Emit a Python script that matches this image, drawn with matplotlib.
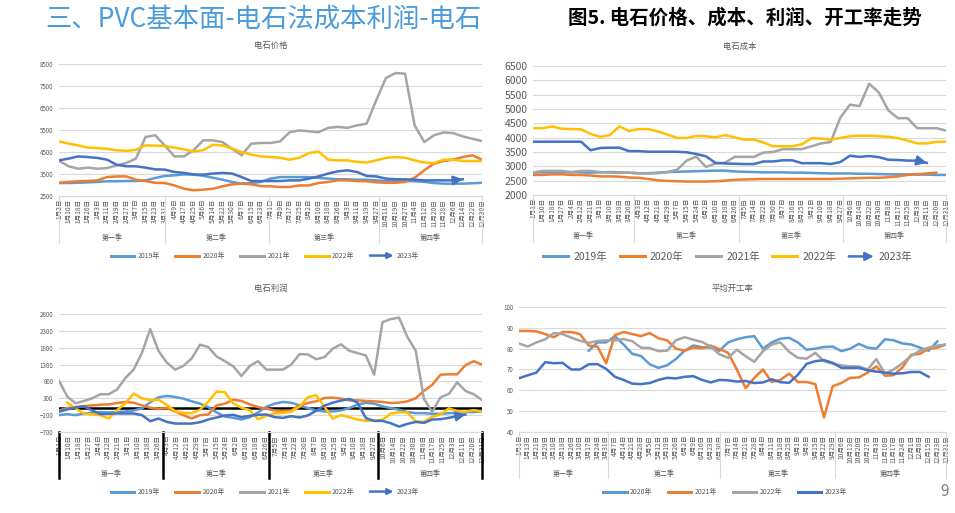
import numpy as np
import matplotlib.pyplot as plt
import matplotlib.transforms as mtransforms
from matplotlib.legend_handler import HandlerBase
from matplotlib.patches import FancyArrowPatch
from matplotlib.lines import Line2D

plt.rcParams['font.family'] = ['Noto Sans CJK SC', 'DejaVu Sans']

nan = np.nan

# ---------------- data ----------------
years = ['2019年', '2020年', '2021年', '2022年', '2023年']
quarters = ['第一季', '第二季', '第三季', '第四季']

# 电石价格 (daily price, sampled at the axis labels)
price_labels = ['1月2日', '1月10日', '1月18日', '1月26日', '2月3日', '2月11日', '2月19日', '2月27日',
                '3月7日', '3月15日', '3月23日', '3月31日', '4月9日', '4月17日', '4月25日', '5月6日',
                '5月14日', '5月22日', '5月30日', '6月7日', '6月15日', '6月23日', '7月1日', '7月9日',
                '7月17日', '7月25日', '8月2日', '8月10日', '8月18日', '8月26日', '9月3日', '9月11日',
                '9月19日', '9月27日', '10月11日', '10月19日', '10月27日', '11月4日', '11月12日',
                '11月20日', '11月28日', '12月6日', '12月14日', '12月22日', '12月30日']
price_2019 = [3090, 3090, 3100, 3120, 3140, 3170, 3170, 3180, 3180, 3210, 3320, 3410, 3440, 3480, 3470,
              3420, 3330, 3240, 3140, 3060, 3090, 3140, 3290, 3360, 3360, 3360, 3360, 3320, 3290, 3260,
              3260, 3240, 3240, 3210, 3180, 3180, 3180, 3170, 3140, 3090, 3060, 3060, 3060, 3080, 3100]
price_2020 = [3100, 3140, 3170, 3180, 3210, 3360, 3390, 3390, 3240, 3180, 3100, 3090, 2980, 2830, 2760,
              2790, 2830, 2940, 3030, 3060, 3030, 2950, 2940, 2910, 2910, 2980, 2980, 3090, 3140, 3210,
              3210, 3180, 3170, 3120, 3100, 3100, 3140, 3330, 3670, 3970, 4090, 4150, 4270, 4350, 4150]
price_2021 = [4100, 3850, 3740, 3790, 3740, 3770, 3890, 4000, 4200, 5180, 5260, 4800, 4300, 4300, 4580,
              5030, 5030, 4950, 4650, 4350, 4880, 4910, 4910, 4980, 5400, 5480, 5440, 5400, 5600, 5640,
              5600, 5710, 5790, 6850, 7860, 8090, 8060, 5700, 4950, 5260, 5390, 5360, 5210, 5100, 5000]
price_2022 = [4980, 4880, 4800, 4700, 4680, 4640, 4580, 4550, 4600, 4800, 4790, 4770, 4700, 4620, 4520,
              4580, 4830, 4800, 4650, 4500, 4380, 4300, 4270, 4240, 4150, 4240, 4450, 4520, 4150, 4120,
              4120, 4050, 4020, 4120, 4230, 4270, 4240, 4120, 4020, 4000, 4150, 4150, 4090, 4090, 4090]
price_2023 = [4120, 4200, 4300, 4270, 4230, 4150, 3920, 3850, 3850, 3790, 3710, 3700, 3590, 3550, 3480,
              3470, 3520, 3550, 3520, 3360, 3180, 3180, 3180, 3180, 3210, 3210, 3290, 3390, 3520, 3620,
              3670, 3590, 3410, 3390, 3290, 3260, 3260, 3240, 3210, 3210, 3210, 3210, 3260, nan, nan]

# 电石成本 / 电石利润 share the same label set
week_labels = ['1月1日', '1月10日', '1月18日', '1月27日', '2月4日', '2月12日', '2月21日', '3月1日',
               '3月10日', '3月18日', '3月26日', '4月3日', '4月12日', '4月21日', '4月29日', '5月7日',
               '5月15日', '5月24日', '6月2日', '6月10日', '6月18日', '6月26日', '7月5日', '7月14日',
               '7月22日', '7月30日', '8月7日', '8月16日', '8月25日', '9月2日', '9月10日', '9月18日',
               '9月27日', '10月6日', '10月14日', '10月22日', '10月30日', '11月8日', '11月17日',
               '11月25日', '12月3日', '12月11日', '12月20日', '12月31日']
cost_2019 = [2780, 2790, 2790, 2790, 2790, 2790, 2780, 2790, 2800, 2790, 2780, 2760, 2760, 2780, 2800,
             2810, 2820, 2830, 2840, 2850, 2850, 2820, 2810, 2800, 2790, 2790, 2790, 2780, 2780, 2770,
             2760, 2750, 2750, 2750, 2740, 2740, 2730, 2720, 2720, 2720, 2710, 2710, 2700, 2700]
cost_2020 = [2700, 2700, 2720, 2720, 2700, 2700, 2680, 2650, 2650, 2640, 2610, 2600, 2560, 2510, 2490,
             2480, 2470, 2470, 2470, 2480, 2500, 2530, 2540, 2550, 2560, 2560, 2560, 2560, 2560, 2560,
             2560, 2560, 2570, 2580, 2590, 2600, 2600, 2620, 2650, 2700, 2730, 2750, 2780, nan]
cost_2021 = [2780, 2840, 2840, 2840, 2800, 2840, 2840, 2800, 2780, 2780, 2780, 2750, 2750, 2760, 2800,
             2880, 3200, 3340, 2980, 3100, 3130, 3330, 3330, 3330, 3480, 3500, 3600, 3600, 3600, 3700,
             3800, 3850, 4700, 5150, 5100, 5880, 5580, 4950, 4680, 4680, 4330, 4330, 4330, 4250]
cost_2022 = [4330, 4330, 4390, 4310, 4300, 4290, 4130, 4030, 4090, 4390, 4230, 4300, 4300, 4220, 4110,
             3990, 3990, 4060, 4050, 4010, 4090, 4010, 3930, 3930, 3830, 3700, 3700, 3700, 3770, 3980,
             3970, 3930, 3990, 4050, 4070, 4070, 4050, 4030, 3980, 3900, 3800, 3800, 3855, 3860]
cost_2023 = [3860, 3860, 3860, 3860, 3860, 3860, 3560, 3640, 3650, 3650, 3530, 3530, 3510, 3510, 3510,
             3510, 3490, 3430, 3350, 3120, 3100, 3090, 3080, 3080, 3170, 3170, 3210, 3210, 3110, 3110,
             3110, 3080, 3150, 3370, 3330, 3360, 3320, 3230, 3220, 3200, 3200, 3120, nan, nan]

# 电石利润 (weekly, 52 points)
profit_2019 = [-200, -170, -200, -150, -130, -110, -120, -110, -90, -60, 0, 180, 330, 370, 340, 290, 210,
               140, 40, -120, -240, -280, -330, -260, -120, 50, 140, 190, 170, 90, 10, -60, -90, -90, -60,
               10, 110, 170, 140, 60, 10, -40, -110, -140, -140, -160, -160, -140, -130, -110, -110, -90]
profit_2020 = [-60, 10, 40, 70, 90, 110, 120, 160, 190, 170, 90, 20, -10, 10, -90, -200, -300, -200, -180,
               90, 140, 260, 220, 120, 40, -10, -60, -80, -60, 90, 160, 210, 310, 320, 290, 240, 240, 220,
               210, 190, 160, 170, 210, 300, 520, 700, 1000, 1010, 1010, 1280, 1400, 1300]
profit_2021 = [820, 350, 150, 220, 300, 420, 420, 560, 900, 1150, 1650, 2350, 1700, 1360, 1150, 1260, 1480,
               1890, 1820, 1540, 1400, 1250, 960, 1260, 1400, 1150, 1150, 1150, 1300, 1610, 1600, 1460,
               1520, 1770, 1900, 1710, 1640, 1570, 1000, 2560, 2650, 2690, 2120, 1720, 280, -100, 330,
               430, 770, 520, 420, 250]
profit_2022 = [nan, 170, 0, -150, -180, -200, -300, -50, 150, 440, 300, 240, 260, 100, -80, -140, -140, -40,
               200, 500, 480, 150, 20, -50, -320, -220, -150, -130, -100, 50, 330, 390, 50, -300, -200,
               -260, -330, -370, -360, -340, -150, -120, -120, -380, -400, -250, -180, 0, -80, -100, -50,
               -100]
profit_2023 = [-100, -30, 30, 60, -60, -170, -160, -150, -150, -150, -200, -380, -300, -400, -450, -450,
               -450, -410, -330, -270, -210, -190, -260, -220, -190, -180, -260, -280, -230, -270, -210,
               -70, 80, 170, 230, 280, 170, -290, -370, -370, -440, -540, -460, -400, -430, -330, -320,
               -280, -230, -180, nan, nan]

# 平均开工率
rate_labels = ['1月1日', '1月13日', '1月21日', '1月29日', '2月10日', '2月18日', '2月26日', '3月10日',
               '3月17日', '3月24日', '3月31日', '4月7日', '4月14日', '4月21日', '4月28日', '5月5日',
               '5月12日', '5月19日', '5月26日', '6月2日', '6月9日', '6月16日', '6月23日', '6月30日',
               '7月7日', '7月14日', '7月21日', '7月28日', '8月4日', '8月11日', '8月18日', '8月25日',
               '9月1日', '9月8日', '9月15日', '9月22日', '9月29日', '10月6日', '10月13日', '10月20日',
               '10月27日', '11月3日', '11月10日', '11月17日', '11月24日', '12月1日', '12月8日',
               '12月15日', '12月23日', '12月31日']
rate_years = ['2020年', '2021年', '2022年', '2023年']
rate_2020 = [nan] * 8 + [79, 83, 83, 86, 82, 77.5, 76.5, 72.5, 70.8, 72, 75, 79, 81.5, 80.7, 80.5, 79, 83,
                         84.5, 85.5, 86, 80, 83, 84.8, 85.2, 83, 79.5, 80, 80.8, 81, 78.8, 80, 82.3, 80.5,
                         80, 84.5, 84, 82.5, 82, 80.5, 79, 83.5, nan]
rate_2021 = [88.5, 88.5, 88.3, 87, 85.5, 88, 88, 87, 81.5, 81, 73, 86.5, 88, 87, 86, 87.5, 85, 84, 80, 79,
             80.5, 80.2, 81.5, 79.8, 78, 70, 61, 66, 70, 64, 65, 68, 64, 64, 63, 47, 62, 63.5, 66, 66.2,
             68.5, 71.5, 67, 67.3, 71, 77, 77.5, 80, 80.5, 82]
rate_2022 = [82.5, 81, 83, 84.5, 87.5, 87, 85.3, 83.8, 82.8, 83.7, 84, 84, 84.6, 83.6, 80.5, 80.3, 78.8, 79,
             84, 85.5, 84.3, 83.2, 81, 77.3, 75.6, 79.5, 76.4, 73.7, 78.8, 82, 83, 78.5, 75.6, 75.2, 78,
             74, 72.8, 72, 71.5, 71.5, 70, 75, 68, 70, 73, 76.5, 79, 80.5, 81.5, 82]
rate_2023 = [65.8, 67.2, 68.5, 73.5, 73, 73.2, 70, 70, 72.5, 72.6, 70.3, 66.5, 65, 63.2, 63, 63.5, 65, 66,
             65.7, 66.5, 66.8, 65, 63.8, 65, 64.8, 64.2, 64.5, 63.5, 63.8, 65.3, 63.9, 63.6, 67.5, 72.7,
             74, 74.5, 73.2, 70.8, 70.8, 70.8, 69.6, 69, 68.5, 68, 68.2, 68.8, 68.8, 66.5, nan, nan]

# ---------------- style ----------------
C19, C20, C21, C22, C23 = '#5B9BD5', '#ED7D31', '#A5A5A5', '#FFC000', '#4472C4'
TXT = '#595959'
GRID = '#D9D9D9'
W, H = 955, 513
LW = 1.8


def box(l, t, r, b):
    return [l / W, 1 - b / H, (r - l) / W, (b - t) / H]


class ArrowHandler(HandlerBase):
    def create_artists(self, legend, orig_handle, xdescent, ydescent, width, height, fontsize, trans):
        y = height / 2 - ydescent
        a = FancyArrowPatch((-xdescent, y), (-xdescent + width, y), arrowstyle='-|>',
                            mutation_scale=fontsize * 1.6, lw=LW, color=orig_handle.get_color(),
                            shrinkA=0, shrinkB=0, transform=trans)
        return [a]


def arrow_end(ax, x, y, color, ms):
    x = np.asarray(x, float)
    y = np.asarray(y, float)
    ok = ~np.isnan(y)
    xs, ys = x[ok], y[ok]
    ax.annotate('', xy=(xs[-1], ys[-1]), xytext=(xs[-2], ys[-2]),
                arrowprops=dict(arrowstyle='-|>', color=color, lw=LW, mutation_scale=ms,
                                shrinkA=0, shrinkB=0))


def panel(rect, title, title_y, labels, edges, ylim, yticks, ytfs, sep_bot, q_y,
          sep_color=GRID, sep_lw=0.8):
    ax = fig.add_axes(box(*rect))
    n = len(labels)
    ax.set_xlim(0, n - 1)
    ax.set_ylim(*ylim)
    ax.set_yticks(yticks)
    ax.tick_params(axis='y', length=0, labelsize=ytfs, labelcolor=TXT, pad=4)
    ax.set_xticks(range(n))
    ax.set_xticklabels(labels, rotation=90, fontsize=4.8, color=TXT)
    ax.tick_params(axis='x', length=0, pad=2)
    ax.grid(axis='y', color=GRID, lw=0.8)
    ax.set_axisbelow(True)
    for s in ['top', 'right', 'left']:
        ax.spines[s].set_visible(False)
    ax.spines['bottom'].set_color(GRID)
    trans = mtransforms.blended_transform_factory(ax.transData, fig.transFigure)
    y0 = 1 - rect[3] / H
    y1 = 1 - sep_bot / H
    for e in edges:
        ax.plot([e, e], [y0, y1], color=sep_color, lw=sep_lw, transform=trans, clip_on=False)
    for q, e0, e1 in zip(quarters, edges[:-1], edges[1:]):
        ax.text((e0 + e1) / 2, 1 - q_y / H, q, transform=trans, ha='center', va='center',
                fontsize=5, color=TXT)
    cx = (rect[0] + rect[2]) / 2
    fig.text(cx / W + 0.0, 1 - title_y / H, title, ha='center', va='center', fontsize=6, color=TXT)
    return ax


def legend(ax, handles, labels, cx, cy, fs, hl, cs):
    hmap = {h: ArrowHandler() for h in handles if getattr(h, 'is_arrow', False)}
    ax.legend(handles, labels, loc='center', bbox_to_anchor=(cx / W, 1 - cy / H),
              bbox_transform=fig.transFigure, ncol=len(handles), frameon=False, fontsize=fs,
              handlelength=hl, columnspacing=cs, handletextpad=0.5, labelcolor=TXT,
              handler_map=hmap)


def handles(colors, arrow_last=True):
    hs = []
    for i, c in enumerate(colors):
        h = Line2D([], [], color=c, lw=LW * 1.2)
        h.is_arrow = arrow_last and i == len(colors) - 1
        hs.append(h)
    return hs


fig = plt.figure(figsize=(W / 100, H / 100), dpi=100)

fig.text(45 / W, 1 - 19 / H, '三、PVC基本面-电石法成本利润-电石', fontsize=19, color='#4A9BDC',
         ha='left', va='center')
fig.text(745 / W, 1 - 18 / H, '图5. 电石价格、成本、利润、开工率走势', fontsize=14, fontweight='bold',
         color='black', ha='center', va='center')
fig.text(945 / W, 1 - 492 / H, '9', fontsize=11, color='#7F7F7F', ha='center', va='center')

colors5 = [C19, C20, C21, C22, C23]

# ---- 电石价格 ----
ax1 = panel((59, 64, 482, 196), '电石价格', 45, price_labels, [0, 11, 21.8, 33.3, 44],
            (2500, 8500), range(2500, 8501, 1000), 4.5, 243, 238)
x1 = np.arange(len(price_labels))
for s, c in zip([price_2019, price_2020, price_2021, price_2022, price_2023], colors5):
    ax1.plot(x1, s, color=c, lw=LW)
arrow_end(ax1, x1, price_2023, C23, 13)
legend(ax1, handles(colors5), years, 265, 256, 5, 3.4, 2.2)

# ---- 电石成本 ----
ax2 = panel((533, 66, 946, 195), '电石成本', 46, week_labels, [0, 10.5, 21.4, 32.3, 43],
            (2000, 6500), range(2000, 6501, 500), 7.5, 242, 236)
x2 = np.arange(len(week_labels))
for s, c in zip([cost_2019, cost_2020, cost_2021, cost_2022, cost_2023], colors5):
    ax2.plot(x2, s, color=c, lw=LW)
arrow_end(ax2, x2, cost_2023, C23, 14)
legend(ax2, handles(colors5), years, 728, 257, 7.5, 2.4, 1.2)

# ---- 电石利润 ----
ax3 = panel((59, 314, 482, 432), '电石利润', 288, week_labels, [0, 10.6, 21.3, 32.4, 43],
            (-700, 2800), range(-700, 2801, 500), 4.5, 478, 474, sep_color='black', sep_lw=1.8)
x3 = np.linspace(0, len(week_labels) - 1, len(profit_2019))
ax3.axhline(0, color='black', lw=1.8, zorder=1)
for s, c in zip([profit_2019, profit_2020, profit_2021, profit_2022, profit_2023], colors5):
    ax3.plot(x3, s, color=c, lw=LW, zorder=2)
arrow_end(ax3, x3, profit_2023, C23, 13)
legend(ax3, handles(colors5), years, 265, 492, 5, 3.4, 2.2)

# ---- 平均开工率 ----
ax4 = panel((519, 307, 946, 432), '平均开工率', 288, rate_labels, [0, 10.2, 23.1, 36.3, 49],
            (40, 100), range(40, 101, 10), 4.5, 478, 474)
x4 = np.arange(len(rate_labels))
colors4 = [C19, C20, C21, C23]
for s, c in zip([rate_2020, rate_2021, rate_2022, rate_2023], colors4):
    ax4.plot(x4, s, color=c, lw=LW)
legend(ax4, handles(colors4, arrow_last=False), rate_years, 725, 492, 5, 3.4, 2.2)

fig.savefig('out.png', dpi=100)
